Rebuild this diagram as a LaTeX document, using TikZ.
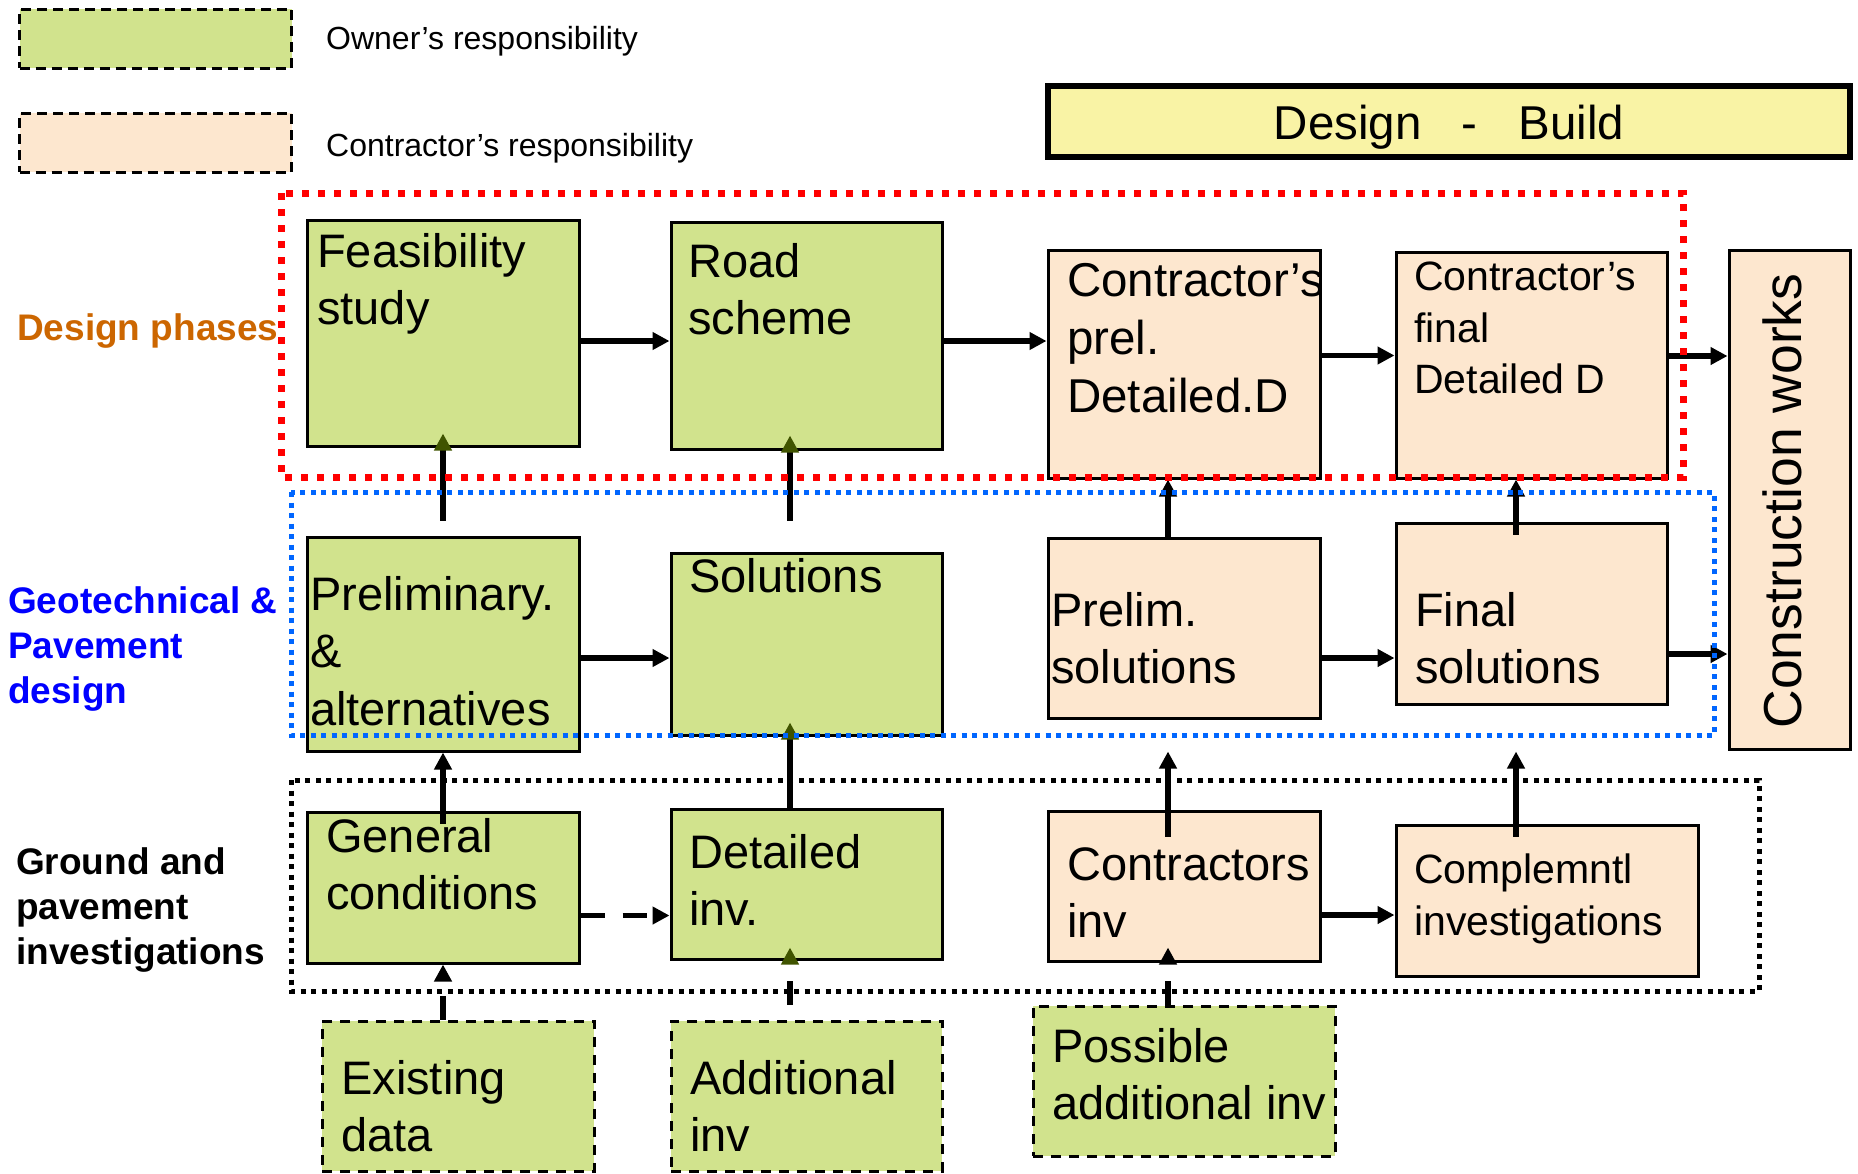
\documentclass[tikz,border=0pt]{standalone}
\usepackage{fontspec}
\setmainfont{Liberation Sans}
\usetikzlibrary{arrows.meta}
\definecolor{ownergreen}{RGB}{209,227,141}
\definecolor{contrpeach}{RGB}{253,231,207}
\definecolor{dbyellow}{RGB}{249,243,165}
\definecolor{phaseorange}{RGB}{204,102,0}
\definecolor{geoblue}{RGB}{0,0,255}
\definecolor{frameblue}{RGB}{0,102,255}
\definecolor{tipolive}{RGB}{64,84,0}
\begin{document}
\begin{tikzpicture}[x=1pt, y=-1pt, line join=miter, line cap=butt, >={Triangle[length=17pt,width=17pt]},
  ownbox/.style={draw=black, line width=3pt, fill=ownergreen, inner sep=0pt},
  conbox/.style={draw=black, line width=3pt, fill=contrpeach, inner sep=0pt},
  databox/.style={ownbox, dash pattern=on 10pt off 8pt},
  boxtxt/.style={anchor=north west, align=left, inner sep=0pt, font=\fontsize{47}{57.5}\selectfont},
  smalltxt/.style={boxtxt, font=\fontsize{41}{51.5}\selectfont},
  sidetxt/.style={anchor=north west, align=left, inner sep=0pt, font=\bfseries\fontsize{37}{45}\selectfont},
  arr/.style={->, line width=5.5pt},
  oltip/.style={-{Triangle[length=17pt,width=17pt,color=tipolive]}},
  dasharr/.style={arr, dash pattern=on 24pt off 18pt}]
\def \W{272pt};
\useasboundingbox (0,0) rectangle (1858,1173);
\node[ownbox, dash pattern=on 10pt off 6pt, minimum width=\W, minimum height=59pt] (legown) at (155.5,38.5) {};
\node[conbox, dash pattern=on 10pt off 6pt, minimum width=\W, minimum height=59pt] (legcon) at (155.5,142.5) {};
\node[anchor=north west, inner sep=0pt, font=\fontsize{32}{38}\selectfont] (owntxt) at (326,26) {Owner’s responsibility};
\node[anchor=north west, inner sep=0pt, font=\fontsize{32}{38}\selectfont] (contxt) at (326,133) {Contractor’s responsibility};
\node[draw=black, line width=6pt, fill=dbyellow, minimum width=802pt, minimum height=71pt] (dbbox) at (1449,121.5) {};
\node[anchor=base, inner sep=0pt, font=\fontsize{47.5}{57}\selectfont] (dbtxt) at (1449,139) {Design\hspace{40pt}-\hspace{41pt}Build};
\node[sidetxt, text=phaseorange] (phaselbl) at (17,313) {Design phases};
\node[sidetxt, text=geoblue] (geolbl) at (8,586) {Geotechnical \&\\Pavement\\design};
\node[sidetxt] (groundlbl) at (16,847) {Ground and\\pavement\\investigations};
\node[ownbox, minimum width=\W, minimum height=226pt] (feas) at (443,333) {};
\node[ownbox, minimum width=271pt, minimum height=227pt] (road) at (806.5,335.5) {};
\node[conbox, minimum width=\W, minimum height=228pt] (cprel) at (1184,364) {};
\node[conbox, minimum width=271pt, minimum height=226pt] (cfinal) at (1531.5,365) {};
\node[conbox, minimum width=121pt, minimum height=499pt] (constr) at (1789.5,499.5) {};
\node[ownbox, minimum width=\W, minimum height=214pt] (prelalt) at (443,644) {};
\node[ownbox, minimum width=271pt, minimum height=182pt] (solu) at (806.5,644) {};
\node[conbox, minimum width=\W, minimum height=180pt] (prelsol) at (1184,628) {};
\node[conbox, minimum width=271pt, minimum height=181pt] (finsol) at (1531.5,613.5) {};
\node[ownbox, minimum width=\W, minimum height=151pt] (gencond) at (443,887.5) {};
\node[ownbox, minimum width=271pt, minimum height=150pt] (detinv) at (806.5,884) {};
\node[conbox, minimum width=\W, minimum height=150pt] (continv) at (1184,886) {};
\node[conbox, minimum width=302pt, minimum height=151pt] (compl) at (1547,900.5) {};
\node[databox, minimum width=\W, minimum height=150pt] (exist) at (458,1096) {};
\node[databox, minimum width=271pt, minimum height=150pt] (addinv) at (806.5,1096) {};
\node[databox, minimum width=302pt, minimum height=150pt] (possinv) at (1184,1081) {};
\node[boxtxt] (feastxt) at (317,233) {Feasibility\\study};
\node[boxtxt] (roadtxt) at (688,243) {Road\\scheme};
\node[boxtxt, font=\fontsize{47.5}{58}\selectfont] (cpreltxt) at (1067,263) {Contractor’s\\prel.\\Detailed.D};
\node[smalltxt] (cfinaltxt) at (1414,262) {Contractor’s\\final\\Detailed D};
\node[rotate=90, inner sep=0pt, font=\fontsize{53.5}{64}\selectfont] (constrtxt) at (1782,501) {Construction works};
\node[boxtxt] (prelalttxt) at (310,576) {Preliminary.\\\&\\alternatives};
\node[boxtxt] (solutxt) at (689,558) {Solutions};
\node[boxtxt] (prelsoltxt) at (1051,592) {Prelim.\\solutions};
\node[boxtxt] (finsoltxt) at (1415,592) {Final\\solutions};
\node[boxtxt] (gencondtxt) at (326,818) {General\\conditions};
\node[boxtxt] (detinvtxt) at (689,834) {Detailed\\inv.};
\node[boxtxt] (continvtxt) at (1067,847) {Contractors\\inv};
\node[smalltxt] (compltxt) at (1414,854) {Complemntl\\investigations};
\node[boxtxt] (existtxt) at (341,1060) {Existing\\data};
\node[boxtxt] (addinvtxt) at (690,1060) {Additional\\inv};
\node[boxtxt] (possinvtxt) at (1052,1028) {Possible\\additional inv};
\draw[arr] ([yshift=-8pt]feas.east) -- ([yshift=-5.5pt]road.west);
\draw[arr] ([yshift=-5.5pt]road.east) -- ([yshift=23pt]cprel.west);
\draw[arr] ([yshift=8.5pt]cprel.east) -- ([yshift=9.5pt]cfinal.west);
\draw[arr] ([yshift=9pt]cfinal.east) -- ([yshift=143.5pt]constr.west);
\draw[arr] ([yshift=-14pt]prelalt.east) -- ([yshift=-14pt]solu.west);
\draw[arr] ([yshift=-30pt]prelsol.east) -- ([yshift=-44.5pt]finsol.west);
\draw[arr] ([yshift=-40.5pt]finsol.east) -- ([yshift=-154.5pt]constr.west);
\draw[dasharr] ([yshift=-28pt]gencond.east) -- ([yshift=-31.5pt]detinv.west);
\draw[arr] ([yshift=-29pt]continv.east) -- ([yshift=-14.5pt]compl.west);
\draw[arr, oltip] ([yshift=15pt]prelalt.north) -- ([yshift=14pt]feas.south);
\draw[arr, oltip] ([shift={(-16.5pt,31pt)}]solu.north) -- ([shift={(-16.5pt,15pt)}]road.south);
\draw[arr] ([xshift=-16pt]prelsol.north) -- ([xshift=-16pt]cprel.south);
\draw[arr] ([shift={(-15.5pt,-13pt)}]finsol.north) -- ([xshift=-15.5pt]cfinal.south);
\draw[arr] ([yshift=-13pt]gencond.north) -- (prelalt.south);
\draw[arr, oltip] ([xshift=-16.5pt]detinv.north) -- ([shift={(-16.5pt,14pt)}]solu.south);
\draw[arr] ([shift={(-16pt,-27pt)}]continv.north) -- ([shift={(-16pt,-32pt)}]prelsol.south);
\draw[arr] ([shift={(-31pt,-13pt)}]compl.north) -- ([shift={(-15.5pt,-46pt)}]finsol.south);
\draw[dasharr] ([xshift=-15pt]exist.north) -- (gencond.south);
\draw[dasharr, oltip, dash phase=27pt] ([xshift=-16.5pt]addinv.north) -- ([shift={(-16.5pt,13pt)}]detinv.south);
\draw[dasharr] ([xshift=-16pt]possinv.north) -- ([shift={(-16pt,15pt)}]continv.south);
\draw[red, line width=7pt, dash pattern=on 7pt off 9pt] (281,193) rectangle (1683,477);
\draw[frameblue, line width=5pt, dash pattern=on 5pt off 5.5pt] (291,492) rectangle (1714,735);
\draw[black, line width=5pt, dash pattern=on 5pt off 5.5pt] (291,780) rectangle (1759,991);
\end{tikzpicture}
\end{document}
